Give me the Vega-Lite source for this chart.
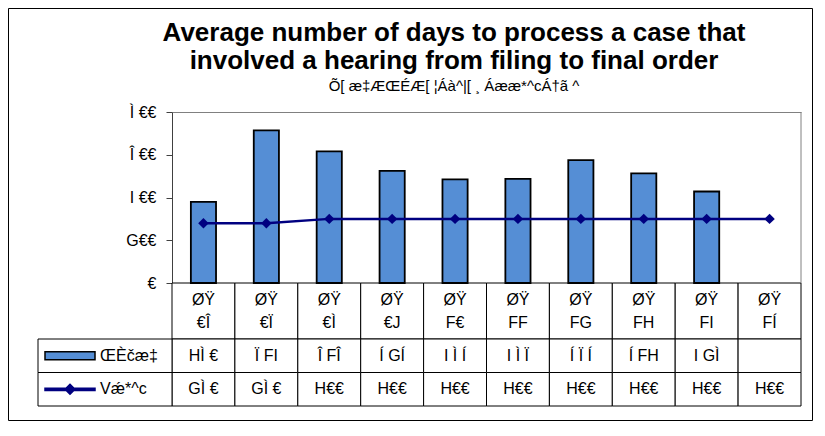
{
  "$schema": "https://vega.github.io/schema/vega-lite/v6.json",
  "width": 804,
  "height": 412,
  "autosize": {"type": "none"},
  "padding": {"left": 8, "top": 8, "right": 13, "bottom": 16},
  "background": "white",
  "config": {
    "view": {"stroke": "black", "strokeWidth": 1},
    "font": "Liberation Sans",
    "text": {"font": "Liberation Sans"}
  },
  "title": {
    "text": ["Average number of days to process a case that", "involved a hearing from filing to final order"],
    "subtitle": "Õ[ æ‡ÆŒÉÆ[ ¦Áà^|[ ¸ Áææ*^cÁ†ã ^",
    "anchor": "middle",
    "frame": "group",
    "dx": 44,
    "offset": -86,
    "font": "Liberation Sans",
    "fontSize": 26,
    "fontWeight": "bold",
    "color": "black",
    "lineHeight": 28,
    "subtitleFont": "Liberation Sans",
    "subtitleFontSize": 15,
    "subtitleColor": "black",
    "subtitlePadding": 5
  },
  "datasets": {
    "main": [
      {"fy": "ØŸ €Î", "actual": 380, "target": 280, "a": "HÌ €", "t": "GÌ €"},
      {"fy": "ØŸ €Ï", "actual": 714, "target": 280, "a": "Ï FI", "t": "GÌ €"},
      {"fy": "ØŸ €Ì", "actual": 616, "target": 300, "a": "Î FÎ", "t": "H€€"},
      {"fy": "ØŸ €J", "actual": 525, "target": 300, "a": "Í GÍ", "t": "H€€"},
      {"fy": "ØŸ F€", "actual": 485, "target": 300, "a": "I Ì Í", "t": "H€€"},
      {"fy": "ØŸ FF", "actual": 487, "target": 300, "a": "I Ì Ï", "t": "H€€"},
      {"fy": "ØŸ FG", "actual": 575, "target": 300, "a": "Í Ï Í", "t": "H€€"},
      {"fy": "ØŸ FH", "actual": 513, "target": 300, "a": "Í FH", "t": "H€€"},
      {"fy": "ØŸ FI", "actual": 428, "target": 300, "a": "I GÌ", "t": "H€€"},
      {"fy": "ØŸ FÍ", "actual": null, "target": 300, "a": "", "t": "H€€"}
    ],
    "legend": [
      {"row": "a", "name": "ŒÈčæ‡"},
      {"row": "t", "name": "Vǽ*^c"}
    ]
  },
  "resolve": {"scale": {"x": "independent", "y": "independent"}},
  "layer": [
    {
      "data": {"name": "main"},
      "encoding": {
        "x": {"field": "fy", "type": "nominal", "sort": null,
          "scale": {"type": "band", "domain": ["ØŸ €Î", "ØŸ €Ï", "ØŸ €Ì", "ØŸ €J", "ØŸ F€", "ØŸ FF", "ØŸ FG", "ØŸ FH", "ØŸ FI", "ØŸ FÍ"], "range": [164, 793], "paddingInner": 0, "paddingOuter": 0},
          "axis": null},
        "y": {"datum": "cat", "type": "nominal",
          "scale": {"type": "band", "domain": ["cat"], "range": [275, 331], "paddingInner": 0, "paddingOuter": 0},
          "axis": null}
      },
      "layer": [
        {"mark": {"type": "rect", "fill": "white", "stroke": "black", "strokeWidth": 1}},
        {"mark": {"type": "text", "fontSize": 16, "lineBreak": " ", "lineHeight": 23, "baseline": "alphabetic", "dy": -6, "color": "black"},
         "encoding": {"text": {"field": "fy"}}}
      ]
    },
    {
      "data": {"name": "main"},
      "transform": [{"fold": ["a", "t"], "as": ["row", "label"]}],
      "encoding": {
        "x": {"field": "fy", "type": "nominal", "sort": null,
          "scale": {"type": "band", "domain": ["ØŸ €Î", "ØŸ €Ï", "ØŸ €Ì", "ØŸ €J", "ØŸ F€", "ØŸ FF", "ØŸ FG", "ØŸ FH", "ØŸ FI", "ØŸ FÍ"], "range": [164, 793], "paddingInner": 0, "paddingOuter": 0},
          "axis": null},
        "y": {"field": "row", "type": "nominal",
          "scale": {"type": "band", "domain": ["a", "t"], "range": [331, 398], "paddingInner": 0, "paddingOuter": 0},
          "axis": null}
      },
      "layer": [
        {"mark": {"type": "rect", "fill": "white", "stroke": "black", "strokeWidth": 1}},
        {"mark": {"type": "text", "fontSize": 16, "color": "black", "baseline": "middle"},
         "encoding": {"text": {"field": "label"}}}
      ]
    },
    {
      "data": {"name": "legend"},
      "encoding": {
        "x": {"datum": "L", "type": "nominal",
          "scale": {"type": "band", "domain": ["L"], "range": [30, 164], "paddingInner": 0, "paddingOuter": 0},
          "axis": null},
        "y": {"field": "row", "type": "nominal",
          "scale": {"type": "band", "domain": ["a", "t"], "range": [331, 398], "paddingInner": 0, "paddingOuter": 0},
          "axis": null}
      },
      "layer": [
        {"mark": {"type": "rect", "fill": "white", "stroke": "black", "strokeWidth": 1}},
        {"mark": {"type": "point", "filled": true, "size": 2500, "xOffset": -35, "strokeWidth": 1.5, "opacity": 1},
         "encoding": {
           "shape": {"field": "row", "type": "nominal", "scale": {"domain": ["a", "t"], "range": ["M-1,-0.16H1V0.16H-1Z", "M-1,-0.045H1V0.045H-1Z M-0.2,0L0,-0.2L0.2,0L0,0.2Z"]}, "legend": null},
           "fill": {"field": "row", "type": "nominal", "scale": {"domain": ["a", "t"], "range": ["#558ed5", "#000080"]}, "legend": null},
           "stroke": {"field": "row", "type": "nominal", "scale": {"domain": ["a", "t"], "range": ["black", "#000080"]}, "legend": null}
         }},
        {"mark": {"type": "text", "align": "left", "baseline": "middle", "xOffset": -5, "fontSize": 16, "color": "black"},
         "encoding": {"text": {"field": "name"}}}
      ]
    },
    {
      "data": {"name": "main"},
      "encoding": {
        "x": {"field": "fy", "type": "nominal", "sort": null,
          "scale": {"type": "band", "domain": ["ØŸ €Î", "ØŸ €Ï", "ØŸ €Ì", "ØŸ €J", "ØŸ F€", "ØŸ FF", "ØŸ FG", "ØŸ FH", "ØŸ FI", "ØŸ FÍ"], "range": [164, 793], "paddingInner": 0, "paddingOuter": 0},
          "axis": null}
      },
      "layer": [
        {"mark": {"type": "bar", "fill": "#558ed5", "stroke": "black", "strokeWidth": 1.8, "width": {"band": 0.4}},
         "encoding": {
           "y": {"field": "actual", "type": "quantitative",
             "scale": {"domain": [0, 800], "range": [275, 104], "nice": false, "zero": true},
             "axis": {
               "values": [0, 200, 400, 600, 800],
               "offset": -164,
               "labelExpr": "datum.value == 0 ? '€' : datum.value == 200 ? 'G€€' : datum.value == 400 ? 'I €€' : datum.value == 600 ? 'Î €€' : 'Ì €€'",
               "labelFont": "Liberation Sans",
               "labelFontSize": 16,
               "labelColor": "black",
               "labelPadding": 10,
               "domainColor": "#404040",
               "tickColor": "#404040",
               "tickSize": 6,
               "grid": true,
               "gridColor": "#808080",
               "gridOpacity": {"condition": {"test": "datum.value == 800", "value": 1}, "value": 0},
               "title": null
             }}
         }},
        {"mark": {"type": "line", "color": "#000080", "strokeWidth": 2.5,
           "point": {"shape": "diamond", "size": 110, "filled": true, "color": "#000080"}},
         "encoding": {"y": {"field": "target", "type": "quantitative"}}},
        {"data": {"values": [{}]},
         "mark": {"type": "rule", "color": "#808080", "strokeWidth": 1},
         "encoding": {
           "x": {"datum": "ØŸ FÍ", "type": "nominal", "bandPosition": 1},
           "y": {"datum": 0, "type": "quantitative"},
           "y2": {"datum": 800}
         }}
      ]
    }
  ]
}
